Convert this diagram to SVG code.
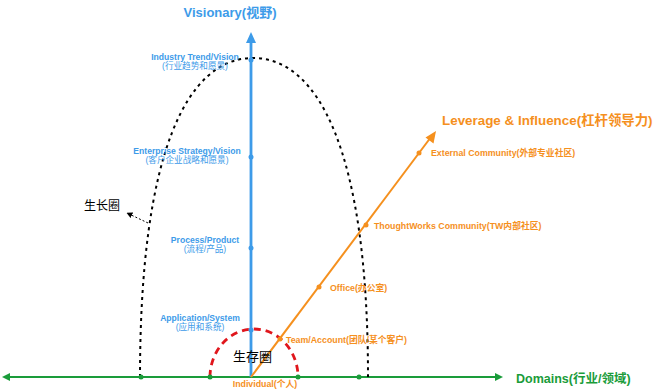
<svg xmlns="http://www.w3.org/2000/svg" width="653" height="392" viewBox="0 0 653 392">
<style>
.b{fill:#3d9be9;font-family:"Liberation Sans","Noto Sans CJK SC",sans-serif;font-weight:bold;font-size:8.6px;text-anchor:middle}
.o{fill:#f5901e;font-family:"Liberation Sans","Noto Sans CJK SC",sans-serif;font-weight:bold;font-size:8.8px}
.k{fill:#000;font-family:"Noto Sans CJK SC",sans-serif;font-size:12px}
.bd{fill:#3d9be9}.od{fill:#f5901e}.gd{fill:#1a9c3a}
</style>
<defs>
<marker id="ah" viewBox="0 0 10 10" refX="9" refY="5" markerWidth="6" markerHeight="6" orient="auto"><path d="M0,0L10,5L0,10z" fill="#000"/></marker>
</defs>
<rect width="653" height="392" fill="#fff"/>
<g id="connectors">
<line x1="4" y1="377" x2="498" y2="377" stroke="#1a9c3a" stroke-width="2"/>
<path d="M2,377L10,373L10,381z" class="gd"/>
<path d="M503,377L495,373L495,381z" class="gd"/>
<path d="M140,377C140,150 188,58 253,58C318,58 368,150 368,377" fill="none" stroke="#000" stroke-width="2" stroke-dasharray="3 4"/>
<path d="M210,377A44,48 0 0 1 298,377" fill="none" stroke="#e0161c" stroke-width="2.8" stroke-dasharray="7 5"/>
<line x1="251" y1="377" x2="251" y2="40" stroke="#3d9be9" stroke-width="2.8"/>
<path d="M251,32L246,43L256,43z" class="bd"/>
<line x1="251" y1="377" x2="431" y2="137" stroke="#f5901e" stroke-width="2"/>
<path d="M436,131L433.5,143.5L425.5,137.5z" class="od"/>
<line x1="148" y1="223" x2="127" y2="213" stroke="#000" stroke-width="1" stroke-dasharray="2 2" marker-end="url(#ah)"/>
</g>
<g id="domain-dots">
<circle cx="141" cy="377" r="2.5" class="gd"/>
<circle cx="210" cy="377" r="2.5" class="gd"/>
<circle cx="298" cy="377" r="2.5" class="gd"/>
<circle cx="359" cy="377" r="2.5" class="gd"/>
</g>
<g id="visionary">
<text x="230" y="17" style="fill:#3d9be9;font-family:'Liberation Sans','Noto Sans CJK SC',sans-serif;font-weight:bold;font-size:13px;text-anchor:middle">Visionary(视野)</text>
</g>
<g id="industry">
<circle cx="251" cy="60" r="2.5" class="bd"/>
<text x="195" y="60" class="b">Industry Trend/Vision</text>
<text x="195" y="69" class="b" style="font-weight:normal">(行业趋势和愿景)</text>
</g>
<g id="enterprise">
<circle cx="251" cy="157" r="2.5" class="bd"/>
<text x="187" y="154" class="b">Enterprise Strategy/Vision</text>
<text x="187" y="163" class="b" style="font-weight:normal">(客户企业战略和愿景)</text>
</g>
<g id="process">
<circle cx="251" cy="248" r="2.5" class="bd"/>
<text x="205" y="243" class="b">Process/Product</text>
<text x="205" y="252" class="b" style="font-weight:normal">(流程/产品)</text>
</g>
<g id="application">
<circle cx="251" cy="330" r="2.5" class="bd"/>
<text x="200" y="321" class="b">Application/System</text>
<text x="200" y="330" class="b" style="font-weight:normal">(应用和系统)</text>
</g>
<g id="individual">
<text x="265" y="387" class="o" style="text-anchor:middle">Individual(个人)</text>
</g>
<g id="team">
<circle cx="280" cy="339" r="2.5" class="od"/>
<text x="286" y="343" class="o">Team/Account(团队/某个客户)</text>
</g>
<g id="office">
<circle cx="319" cy="287" r="2.5" class="od"/>
<text x="330" y="291" class="o">Office(办公室)</text>
</g>
<g id="thoughtworks">
<circle cx="366" cy="225" r="2.5" class="od"/>
<text x="374" y="229" class="o">ThoughtWorks Community(TW内部社区)</text>
</g>
<g id="external">
<circle cx="419" cy="153" r="2.5" class="od"/>
<text x="431" y="156" class="o">External Community(外部专业社区)</text>
</g>
<g id="leverage">
<text x="442" y="125" style="fill:#f5901e;font-family:'Liberation Sans','Noto Sans CJK SC',sans-serif;font-weight:bold;font-size:13.4px">Leverage &amp; Influence(杠杆领导力)</text>
</g>
<g id="domains">
<text x="516" y="383" style="fill:#1a9c3a;font-family:'Liberation Sans','Noto Sans CJK SC',sans-serif;font-weight:bold;font-size:12.5px">Domains(行业/领域)</text>
</g>
<g id="growth">
<text x="84" y="210" class="k">生长圈</text>
</g>
<g id="survival">
<text x="233" y="361" class="k" style="font-size:13px">生存圈</text>
</g>
</svg>
